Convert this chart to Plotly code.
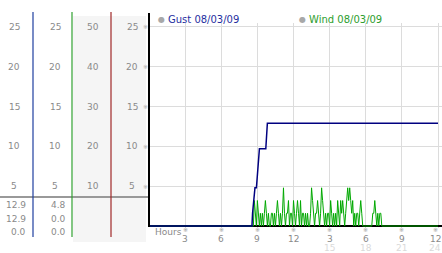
import plotly.graph_objects as go

W, H = 442, 253

# ---------------- data ----------------
gust_hours = [0, 8.55, 8.6, 8.72, 8.8, 8.92, 9.17, 9.7, 9.83, 24]
gust_values = [0, 0, 1.6, 3.2, 4.8, 4.8, 9.7, 9.7, 12.9, 12.9]

wind_start_min = 525   # 8:45
wind_step_min = 5
wind_values = [
    3.2, 1.6, 0, 3.2, 1.6, 0, 1.6, 0, 1.6, 0,
    1.6, 3.2, 1.6, 0, 1.6, 0, 0, 1.6, 1.6, 0,
    1.6, 0, 1.6, 3.2, 1.6, 0, 1.6, 0, 1.6, 4.8,
    1.6, 0, 1.6, 1.6, 3.2, 0, 1.6, 1.6, 0, 3.2,
    1.6, 0, 1.6, 3.2, 1.6, 0, 3.2, 0, 1.6, 1.6,
    0, 1.6, 0, 1.6, 0, 0, 1.6, 4.8, 3.2, 1.6,
    0, 1.6, 1.6, 3.2, 1.6, 0, 1.6, 4.8, 3.2, 1.6,
    0, 1.6, 0, 1.6, 1.6, 0, 3.2, 1.6, 0, 1.6,
    0, 1.6, 0, 3.2, 1.6, 0, 3.2, 1.6, 3.2, 1.6,
    0, 1.6, 3.2, 4.8, 3.2, 4.8, 3.2, 1.6, 3.2, 0,
    1.6, 0, 1.6, 1.6, 0, 1.6, 3.2, 1.6, 0, 0,
    0, 0, 0, 0, 0, 0, 0, 0, 1.6, 1.6,
    3.2, 1.6, 0, 1.6, 0, 1.6, 1.6, 0, 0,
]
wind_hours = [0, (wind_start_min - wind_step_min) / 60] + \
    [(wind_start_min + i * wind_step_min) / 60 for i in range(len(wind_values))] + [24]
wind_series = [0, 0] + wind_values + [0]

x_ticks = [3, 6, 9, 12, 15, 18, 21, 24]
x_tick_labels = ["3", "6", "9", "12", "3", "6", "9", "12"]
x_tick_labels2 = ["", "", "", "", "15", "18", "21", "24"]

y_ticks = [5, 10, 15, 20, 25]
col1_labels = ["5", "10", "15", "20", "25"]
col2_labels = ["5", "10", "15", "20", "25"]
col3_labels = ["10", "20", "30", "40", "50"]
col4_labels = ["5", "10", "15", "20", "25"]

gust_table = ["12.9", "12.9", "0.0"]
wind_table = ["4.8", "0.0", "0.0"]

gust_legend = "Gust 08/03/09"
wind_legend = "Wind 08/03/09"

# ---------------- helpers ----------------
def px(x):
    return x / W

def py(y):
    return (H - y) / H

FONT = "DejaVu Sans"
GREY = "#8a8a8a"

fig = go.Figure()
fig.add_trace(go.Scatter(x=wind_hours, y=wind_series, mode="lines",
                         line=dict(color="#00a800", width=1), hoverinfo="skip"))
fig.add_trace(go.Scatter(x=gust_hours, y=gust_values, mode="lines",
                         line=dict(color="#000080", width=1.5), hoverinfo="skip"))

x_left, x_right = 149, 442
x_range_max = 24 * (x_right - x_left) / (438 - x_left)
y_bot_px, y_top_px = 228.4, 23

fig.update_layout(
    width=W, height=H, margin=dict(l=0, r=0, t=0, b=0),
    paper_bgcolor="white", plot_bgcolor="white", showlegend=False,
    font=dict(family=FONT, size=9, color=GREY),
    xaxis=dict(domain=[px(x_left), 1], range=[0, x_range_max],
               tickvals=x_ticks, showticklabels=False, ticks="",
               showgrid=True, gridcolor="#dcdcdc", gridwidth=1,
               zeroline=False, showline=False, fixedrange=True),
    yaxis=dict(domain=[py(y_bot_px), py(y_top_px)], range=[-0.3, 25.5],
               tickvals=y_ticks, showticklabels=False, ticks="",
               showgrid=True, gridcolor="#dcdcdc", gridwidth=1,
               zeroline=True, zerolinecolor="black", zerolinewidth=2,
               showline=False, fixedrange=True),
)

shapes = []
# light background of columns 3 and 4
shapes.append(dict(type="rect", xref="paper", yref="paper",
                   x0=px(73), x1=px(146), y0=py(242), y1=py(16),
                   fillcolor="#f5f5f5", line=dict(width=0), layer="below"))
# grey separator line
shapes.append(dict(type="line", xref="paper", yref="paper",
                   x0=0, x1=px(149), y0=py(197), y1=py(197),
                   line=dict(color="#999999", width=2)))
# coloured column lines
for xx, col in [(33, "#1f3f9f"), (72, "#30a030"), (111, "#a02828")]:
    shapes.append(dict(type="line", xref="paper", yref="paper",
                       x0=px(xx), x1=px(xx), y0=py(12), y1=py(237),
                       line=dict(color=col, width=1.2)))
# left axis line
shapes.append(dict(type="line", xref="paper", yref="paper",
                   x0=px(149), x1=px(149), y0=py(13), y1=py(227),
                   line=dict(color="black", width=2)))
fig.update_layout(shapes=shapes)

ann = []
# left column tick labels
for labels, xc in [(col1_labels, 14), (col2_labels, 55), (col3_labels, 93), (col4_labels, 132)]:
    for v, t in zip(y_ticks, labels):
        ann.append(dict(x=px(xc), y=v, xref="paper", yref="y", text=t, showarrow=False,
                        xanchor="center", yanchor="middle",
                        font=dict(family=FONT, size=9, color=GREY)))
for v in y_ticks:
    ann.append(dict(x=px(145), y=v, xref="paper", yref="y", text="※", showarrow=False,
                    xanchor="center", yanchor="middle",
                    font=dict(family=FONT, size=6, color="#aaaaaa")))
# table values
rows_px = [205, 219, 232]
for vals, xr in [(gust_table, 28), (wind_table, 68)]:
    for t, yy in zip(vals, rows_px):
        ann.append(dict(x=px(xr), y=py(yy), xref="paper", yref="paper", text=t,
                        showarrow=False, xanchor="right", yanchor="middle",
                        font=dict(family=FONT, size=9, color=GREY)))
# x tick labels
for xv, t1, t2 in zip(x_ticks, x_tick_labels, x_tick_labels2):
    shift = -3 if xv == 24 else 0
    ann.append(dict(x=xv, y=py(229), xref="x", yref="paper", text="※", showarrow=False,
                    xanchor="center", yanchor="middle", xshift=shift,
                    font=dict(family=FONT, size=6, color="#999999")))
    ann.append(dict(x=xv, y=py(238.5), xref="x", yref="paper", text=t1, showarrow=False,
                    xanchor="center", yanchor="middle", xshift=shift,
                    font=dict(family=FONT, size=9, color=GREY)))
    if t2:
        ann.append(dict(x=xv, y=py(248), xref="x", yref="paper", text=t2, showarrow=False,
                        xanchor="center", yanchor="middle", xshift=shift,
                        font=dict(family=FONT, size=9, color="#dadada")))
ann.append(dict(x=px(153), y=py(232), xref="paper", yref="paper", text="Hours",
                showarrow=False, xanchor="left", yanchor="middle",
                font=dict(family=FONT, size=9, color=GREY)))
# legend
for xm, xt, txt, col in [(161, 166, gust_legend, "#1f2f9f"), (302, 307, wind_legend, "#2e9e2e")]:
    ann.append(dict(x=px(xm), y=py(20), xref="paper", yref="paper", text="●",
                    showarrow=False, xanchor="center", yanchor="middle",
                    font=dict(family=FONT, size=8, color="#a8a8a8")))
    ann.append(dict(x=px(xt), y=py(20), xref="paper", yref="paper", text=txt,
                    showarrow=False, xanchor="left", yanchor="middle",
                    font=dict(family=FONT, size=10, color=col)))
fig.update_layout(annotations=ann)

fig.write_html("out.html", config={"displayModeBar": False})
